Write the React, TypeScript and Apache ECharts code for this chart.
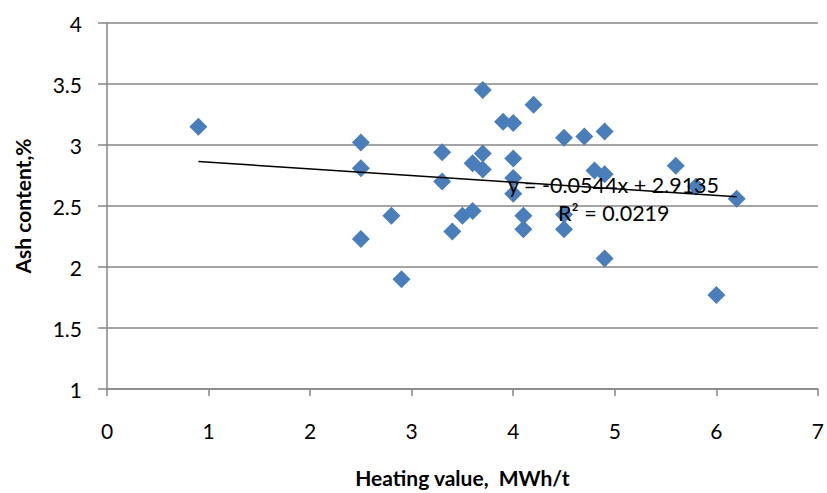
import React, { useEffect, useRef } from "react";
import * as echarts from "echarts";

const heatingValue = [0.9, 2.5, 2.5, 2.5, 2.8, 2.9, 3.3, 3.3, 3.4, 3.5, 3.6, 3.6, 3.7, 3.7, 3.7, 3.9, 4.0, 4.0, 4.0, 4.0, 4.1, 4.1, 4.2, 4.5, 4.5, 4.5, 4.7, 4.8, 4.9, 4.9, 4.9, 5.6, 5.8, 6.0, 6.2];
const ashContent = [3.15, 3.02, 2.81, 2.23, 2.42, 1.9, 2.94, 2.7, 2.29, 2.42, 2.46, 2.85, 3.45, 2.93, 2.8, 3.19, 3.18, 2.89, 2.73, 2.6, 2.42, 2.31, 3.33, 3.06, 2.43, 2.31, 3.07, 2.79, 3.11, 2.76, 2.07, 2.83, 2.66, 1.77, 2.56];
const trendX = [0.9, 6.2];
const trendY = [2.8645, 2.5762];
const equationText = "y = -0.0544x + 2.9135";
const r2Text = "R² = 0.0219";
const xTitle = "Heating value,  MWh/t";
const yTitle = "Ash content,%";

const FONT = "Lato, 'Open Sans', sans-serif";

export default function App() {
  const ref = useRef<HTMLDivElement>(null);
  useEffect(() => {
    if (!ref.current) return;
    const chart = echarts.init(ref.current, undefined, { renderer: "svg" });
    const axisGray = "#868686";
    chart.setOption({
      animation: false,
      backgroundColor: "#ffffff",
      textStyle: { fontFamily: FONT },
      grid: { left: 107, right: 4, top: 23, bottom: 99, containLabel: false },
      xAxis: {
        type: "value",
        min: 0,
        max: 7,
        interval: 1,
        name: xTitle,
        nameLocation: "middle",
        nameGap: 78,
        nameTextStyle: { fontFamily: FONT, fontSize: 21, fontWeight: "bold", color: "#000" },
        axisLine: { show: true, lineStyle: { color: axisGray, width: 1.5 } },
        axisTick: { show: true, length: 7, lineStyle: { color: axisGray, width: 1.5 } },
        axisLabel: { fontFamily: FONT, fontSize: 21, color: "#000", margin: 31 },
        splitLine: { show: false },
      },
      yAxis: {
        type: "value",
        min: 1,
        max: 4,
        interval: 0.5,
        name: yTitle,
        nameLocation: "middle",
        nameRotate: 90,
        nameGap: 74,
        nameTextStyle: { fontFamily: FONT, fontSize: 21, fontWeight: "bold", color: "#000" },
        axisLine: { show: true, lineStyle: { color: axisGray, width: 1.5 } },
        axisTick: { show: true, length: 9, lineStyle: { color: axisGray, width: 1.5 } },
        axisLabel: { fontFamily: FONT, fontSize: 21, color: "#000", margin: 25 },
        splitLine: { show: true, lineStyle: { color: axisGray, width: 1.5 } },
      },
      series: [
        {
          type: "scatter",
          symbol: "diamond",
          symbolSize: 18,
          itemStyle: { color: "#4A7EBB", opacity: 1 },
          data: heatingValue.map((x, i) => [x, ashContent[i]]),
          z: 2,
        },
        {
          type: "line",
          data: trendX.map((x, i) => [x, trendY[i]]),
          symbol: "none",
          lineStyle: { color: "#000", width: 1.5 },
          z: 3,
        },
      ],
      graphic: [
        {
          type: "text",
          left: 508,
          top: 174,
          z: 10,
          style: { text: equationText, fontFamily: FONT, fontSize: 21.5, fill: "#000" },
        },
        {
          type: "text",
          left: 558,
          top: 202,
          z: 10,
          style: { text: r2Text, fontFamily: FONT, fontSize: 21.5, fill: "#000" },
        },
      ],
    });
    return () => chart.dispose();
  }, []);
  return (
    <div
      ref={ref}
      style={{ position: "absolute", left: 0, top: 0, width: 827, height: 493 }}
    />
  );
}
